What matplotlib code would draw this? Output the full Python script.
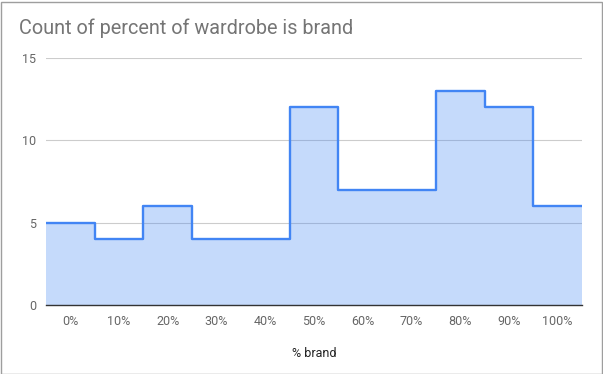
import numpy as np
import matplotlib
matplotlib.use("Agg")
import matplotlib.pyplot as plt
from matplotlib.patches import Rectangle

categories = ["0%", "10%", "20%", "30%", "40%", "50%", "60%", "70%", "80%", "90%", "100%"]
counts = [5, 4, 6, 4, 4, 12, 7, 7, 13, 12, 6]
y_ticks = [0, 5, 10, 15]

plt.rcParams['font.family'] = ['Roboto', 'DejaVu Sans']

fig = plt.figure(figsize=(6.03, 3.74), dpi=100)
ax = fig.add_axes([46/603, (374-305)/374, (582-46)/603, (305-58)/374])

n = len(categories)
edges = np.arange(n + 1) - 0.5
blue = "#4285f4"
ax.stairs(counts, edges, fill=True, color=blue, alpha=0.3, linewidth=0, zorder=2)
ax.stairs(counts, edges, baseline=None, color=blue, linewidth=1.7, zorder=3,
          joinstyle='round')

ax.set_xlim(edges[0], edges[-1])
ax.set_ylim(0, 15)
ax.set_xticks(range(n))
ax.set_xticklabels(categories)
ax.set_yticks(y_ticks)
ax.tick_params(axis='both', length=0, labelsize=9, colors="#666666")
ax.tick_params(axis='x', pad=7)
ax.tick_params(axis='y', pad=7)
ax.grid(axis='y', color="#cccccc", linewidth=0.8, zorder=1)
ax.set_axisbelow(True)
for s in ['top', 'right', 'left']:
    ax.spines[s].set_visible(False)
ax.spines['bottom'].set_color("#333333")
ax.spines['bottom'].set_linewidth(1.0)
ax.spines['bottom'].set_zorder(4)

ax.set_xlabel("% brand", fontsize=9, color="#222222", labelpad=14)

fig.text(19/603, 1 - 28/374, "Count of percent of wardrobe is brand", fontsize=14.3,
         color="#757575", ha='left', va='center')

fig.patches.append(Rectangle((0.5/603, 0.5/374), 601/603, 372/374,
                             transform=fig.transFigure, fill=False,
                             edgecolor="#9e9e9e", linewidth=1.0))

fig.savefig("out.png", dpi=100)
